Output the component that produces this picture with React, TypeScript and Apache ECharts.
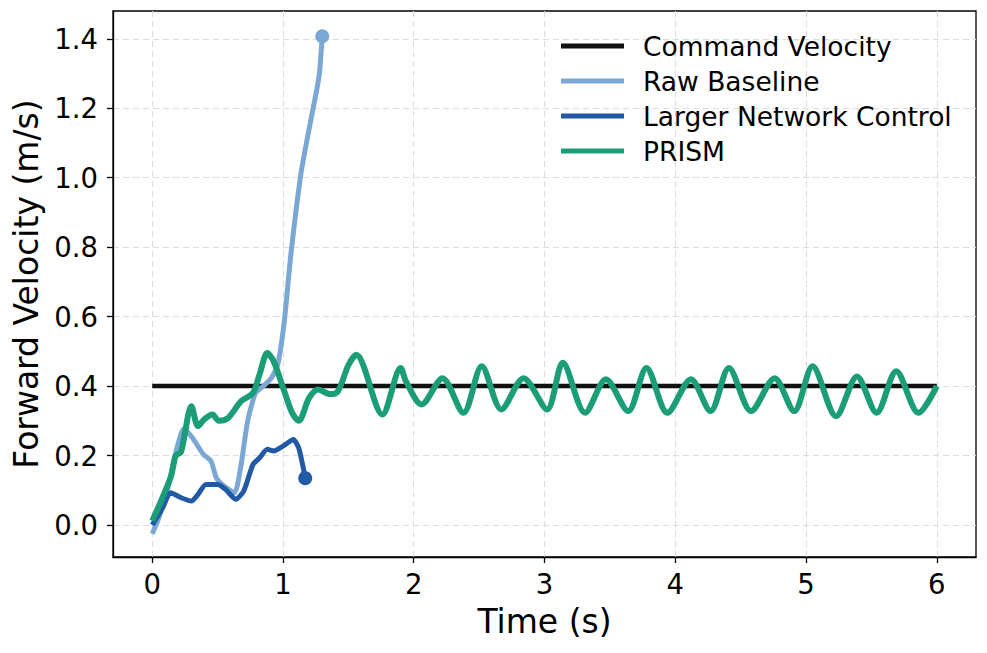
import { useEffect, useRef } from "react";
import * as echarts from "echarts";

// time (s) and forward velocity (m/s)
const commandTime = [0, 6];
const commandVel = [0.4, 0.4];

const rawTime = [
  0.0, 0.05, 0.12, 0.17, 0.21, 0.24, 0.31, 0.39, 0.45, 0.49, 0.55, 0.63, 0.68,
  0.73, 0.79, 0.85, 0.91, 0.96, 1.01, 1.06, 1.14, 1.21, 1.26, 1.28, 1.3,
];
const rawVel = [
  -0.025, 0.02, 0.107, 0.193, 0.25, 0.278, 0.25, 0.204, 0.184, 0.136, 0.112,
  0.093, 0.175, 0.3, 0.38, 0.4, 0.423, 0.462, 0.586, 0.778, 1.018, 1.16, 1.257,
  1.305, 1.407,
];

const largerTime = [
  0.0, 0.08, 0.14, 0.22, 0.3, 0.35, 0.41, 0.5, 0.56, 0.64, 0.7, 0.77, 0.82,
  0.88, 0.93, 1.0, 1.08, 1.12, 1.15, 1.17,
];
const largerVel = [
  0.0, 0.05, 0.093, 0.079, 0.069, 0.088, 0.117, 0.117, 0.103, 0.074, 0.098,
  0.174, 0.193, 0.218, 0.213, 0.227, 0.246, 0.222, 0.174, 0.135,
];

const prismTime = [
  0, 0.14, 0.18, 0.22, 0.3, 0.35, 0.4, 0.46, 0.51, 0.58, 0.68, 0.77, 0.82,
  0.88, 0.93, 1.01, 1.07, 1.12, 1.2, 1.27, 1.36, 1.42, 1.5, 1.56, 1.76, 1.9,
  1.94, 2.06, 2.22, 2.38, 2.52, 2.67, 2.84, 3.02, 3.14, 3.31, 3.47, 3.64, 3.78,
  3.94, 4.12, 4.27, 4.41, 4.58, 4.76, 4.91, 5.05, 5.23, 5.39, 5.54, 5.69, 5.86,
  6.0,
];
const prismVel = [
  0.012, 0.136, 0.2, 0.21, 0.342, 0.285, 0.305, 0.318, 0.3, 0.308, 0.357, 0.38,
  0.433, 0.495, 0.47, 0.385, 0.323, 0.3, 0.366, 0.39, 0.377, 0.385, 0.46, 0.49,
  0.318, 0.452, 0.414, 0.347, 0.423, 0.323, 0.457, 0.333, 0.423, 0.333, 0.467,
  0.323, 0.42, 0.328, 0.452, 0.323, 0.42, 0.328, 0.452, 0.328, 0.423, 0.328,
  0.457, 0.313, 0.428, 0.323, 0.443, 0.323, 0.4,
];

const xTicks = [0, 1, 2, 3, 4, 5, 6];
const yTicks = [0, 0.2, 0.4, 0.6, 0.8, 1.0, 1.2, 1.4];

const FONT = "DejaVu Sans";

const toPairs = (xs: number[], ys: number[]) => xs.map((x, i) => [x, ys[i]]);

// put a filled circle on the final point of a run
const withEndDot = (xs: number[], ys: number[]) =>
  xs.map((x, i) =>
    i === xs.length - 1
      ? { value: [x, ys[i]], symbol: "circle", symbolSize: 14 }
      : [x, ys[i]]
  );

export default function App() {
  const chartRef = useRef<HTMLDivElement>(null);

  useEffect(() => {
    if (!chartRef.current) return;
    const chart = echarts.init(chartRef.current, null, { renderer: "svg" });

    const gridLine = {
      show: true,
      lineStyle: { color: "#dcdcdc", type: [6, 4], width: 1 },
    };

    chart.setOption({
      animation: false,
      backgroundColor: "#ffffff",
      grid: {
        left: 113,
        right: 11,
        top: 11,
        bottom: 96,
        show: true,
        borderColor: "#000",
        borderWidth: 1.3,
      },
      legend: {
        left: 561,
        top: 32,
        padding: 0,
        orient: "vertical",
        icon: "rect",
        itemWidth: 63,
        itemHeight: 5,
        itemGap: 7,
        data: ["Command Velocity", "Raw Baseline", "Larger Network Control", "PRISM"],
        textStyle: {
          fontFamily: FONT,
          fontSize: 26.5,
          color: "#000",
          lineHeight: 28,
          padding: [0, 0, 0, 14],
        },
      },
      xAxis: {
        type: "value",
        min: -0.3,
        max: 6.3,
        name: "Time (s)",
        nameLocation: "middle",
        nameGap: 48,
        nameTextStyle: { fontFamily: FONT, fontSize: 33, color: "#000" },
        axisLine: { onZero: false, lineStyle: { color: "#000", width: 1.3 } },
        axisTick: {
          show: true,
          length: 6,
          customValues: xTicks,
          lineStyle: { color: "#000", width: 1.3 },
        },
        axisLabel: {
          customValues: xTicks,
          margin: 13,
          fontFamily: FONT,
          fontSize: 27.5,
          color: "#000",
        },
        splitLine: gridLine,
      },
      yAxis: {
        type: "value",
        min: -0.092,
        max: 1.48,
        name: "Forward Velocity (m/s)",
        nameLocation: "middle",
        nameGap: 68,
        nameTextStyle: { fontFamily: FONT, fontSize: 33, color: "#000" },
        axisLine: { show: true, onZero: false, lineStyle: { color: "#000", width: 1.3 } },
        axisTick: {
          show: true,
          length: 6,
          customValues: yTicks,
          lineStyle: { color: "#000", width: 1.3 },
        },
        axisLabel: {
          customValues: yTicks,
          margin: 15,
          fontFamily: FONT,
          fontSize: 27.5,
          color: "#000",
          formatter: (v: number) => v.toFixed(1),
        },
        splitLine: gridLine,
      },
      series: [
        {
          name: "Command Velocity",
          type: "line",
          data: toPairs(commandTime, commandVel),
          symbol: "none",
          color: "#111111",
          lineStyle: { width: 4.5, color: "#111111" },
          z: 2,
        },
        {
          name: "Raw Baseline",
          type: "line",
          data: withEndDot(rawTime, rawVel),
          symbol: "none",
          smooth: 0.2,
          color: "#7ba7d4",
          lineStyle: { width: 5, color: "#7ba7d4" },
          itemStyle: { color: "#7ba7d4" },
          z: 3,
        },
        {
          name: "Larger Network Control",
          type: "line",
          data: withEndDot(largerTime, largerVel),
          symbol: "none",
          smooth: 0.2,
          color: "#2259a6",
          lineStyle: { width: 5, color: "#2259a6" },
          itemStyle: { color: "#2259a6" },
          z: 4,
        },
        {
          name: "PRISM",
          type: "line",
          data: toPairs(prismTime, prismVel),
          symbol: "none",
          smooth: 0.3,
          color: "#1b9e77",
          lineStyle: { width: 6, color: "#1b9e77" },
          z: 5,
        },
      ],
    });

    return () => {
      chart.dispose();
    };
  }, []);

  return (
    <div
      ref={chartRef}
      style={{ position: "absolute", left: 0, top: 0, width: 987, height: 653 }}
    />
  );
}
